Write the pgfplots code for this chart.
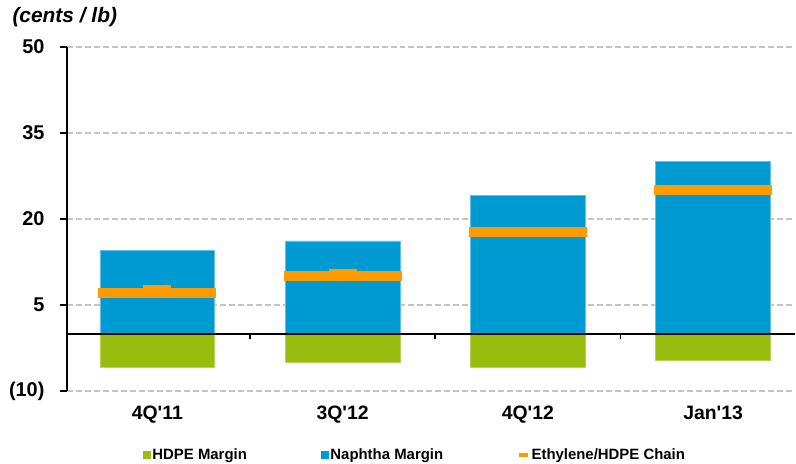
\documentclass[border=0pt]{standalone}
\usepackage{pgfplots}
\pgfplotsset{compat=1.18}
\usepackage{fontspec}
\setmainfont{Liberation Sans}
\definecolor{hdpe}{HTML}{99BD0F}
\definecolor{naph}{HTML}{009AD3}
\definecolor{chain}{HTML}{FF9B00}
\definecolor{gridc}{HTML}{C4C4C4}
\begin{document}
\begin{tikzpicture}
\begin{axis}[
    scale only axis,
    width=729bp, height=344.7bp,
    xmin=-0.488, xmax=3.442,
    ymin=-10, ymax=50,
    axis y line*=left,
    axis x line*=bottom,
    x axis line style={draw=none},
    xtick={0,1,2,3},
    xticklabels={4Q\textquotesingle 11,3Q\textquotesingle 12,4Q\textquotesingle 12,Jan\textquotesingle 13},
    xtick style={draw=none},
    ytick={-10,5,20,35,50},
    yticklabels={(10),5,20,35,50},
    tick align=outside,
    major tick length=7bp,
    y axis line style={line width=1.6bp},
    ytick style={line width=1.6bp, black},
    ymajorgrids,
    major grid style={gridc, line width=1.5bp, dash pattern=on 6bp off 3bp},
    yticklabel style={font=\fontsize{20}{22}\selectfont\bfseries, xshift=-12bp},
    xticklabel style={font=\fontsize{19.5}{21}\selectfont\bfseries, yshift=-4bp},
    legend columns=3,
    legend style={draw=none, fill=none, at={(0.104,-0.186)}, anchor=west,
        inner xsep=0pt, inner ysep=0pt,
        font=\fontsize{15}{17}\selectfont\bfseries,
        /tikz/every even column/.append style={column sep=72bp}},
    clip=false,
]
\addplot[ybar, bar width=0.62, bar shift=0pt, fill=hdpe, draw=hdpe!70!white, line width=0.6bp,
    legend image code/.code={\fill[hdpe] (0bp,-3.5bp) rectangle (7bp,3.5bp);}]
    coordinates {(0,-5.9) (1,-4.9) (2,-5.9) (3,-4.6)};
\addlegendentry{HDPE Margin}
\addplot[ybar, bar width=0.62, bar shift=0pt, fill=naph, draw=naph!60!white, line width=0.6bp,
    legend image code/.code={\fill[naph] (0bp,-3.5bp) rectangle (7bp,3.5bp);}]
    coordinates {(0,14.5) (1,16.2) (2,24.1) (3,30.0)};
\addlegendentry{Naphtha Margin}
\addplot[forget plot, only marks, mark=-, mark size=14bp,
    mark options={chain, line width=10bp}]
    coordinates {(0,7.7) (1,10.5)};
\addplot[only marks, mark=-, mark size=59bp,
    mark options={chain, line width=10bp},
    legend image code/.code={\draw[chain, line width=3.5bp] (0bp,0) -- (9bp,0);}]
    coordinates {(0,7.2) (1,10.0) (2,17.8) (3,25.0)};
\addlegendentry{Ethylene/HDPE Chain}
\draw[black, line width=2bp] (axis cs:-0.488,0) -- (axis cs:3.442,0);
\draw[black, line width=1.6bp] (axis cs:0.5,0) -- ([yshift=-5bp]axis cs:0.5,0);
\draw[black, line width=1.6bp] (axis cs:1.5,0) -- ([yshift=-5bp]axis cs:1.5,0);
\draw[black, line width=1.6bp] (axis cs:2.5,0) -- ([yshift=-5bp]axis cs:2.5,0);
\end{axis}
\node[anchor=west, font=\fontsize{21}{23}\selectfont\bfseries\itshape] at (-58bp,374.5bp) {(cents / lb)};
\path[use as bounding box] (-67bp,-72.3bp) rectangle (729bp,391.7bp);
\end{tikzpicture}
\end{document}
